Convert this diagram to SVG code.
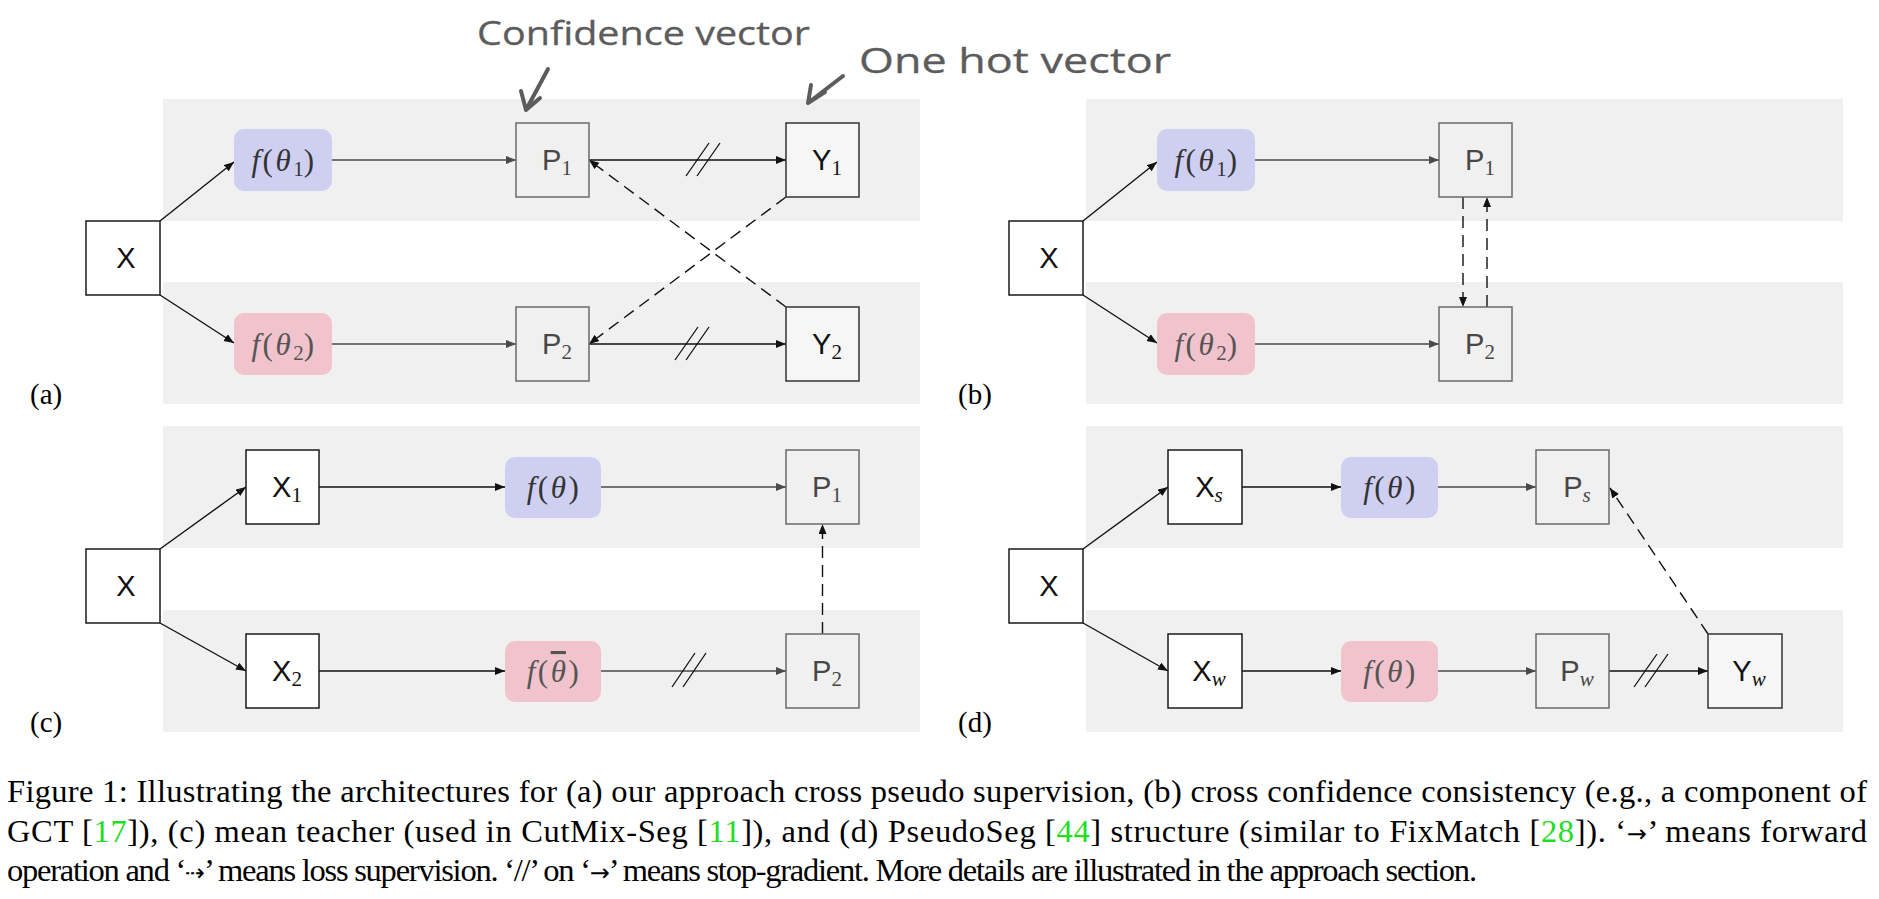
<svg xmlns="http://www.w3.org/2000/svg" width="1879" height="899" viewBox="0 0 1879 899">
<defs>
<style>
.band{fill:#f0f0f0}
.bx{fill:#fff;stroke:#1a1a1a;stroke-width:1.5}
.bp{fill:none;stroke:#6a6a6a;stroke-width:1.5}
.by{fill:#f6f6f6;stroke:#333;stroke-width:1.5}
.fb{fill:#cfd0f1}
.fr{fill:#f1c3cc}
.t{font-family:"Liberation Sans",Arial,sans-serif;font-size:29px;fill:#111}
.tp{fill:#474747}
.s{font-family:"Liberation Serif","Times New Roman",serif;font-size:21px;letter-spacing:0}
.si{font-family:"Liberation Serif","Times New Roman",serif;font-size:21px;font-style:italic}
.m{font-family:"Liberation Serif","Times New Roman",serif;font-size:31px;fill:#333;letter-spacing:2.5px}
.mr{fill:#555}
.i{font-style:italic}
.nb{letter-spacing:0}
.ol{text-decoration:overline}
.c{stroke:#111;stroke-width:1.4;fill:none}
.g{stroke:#4a4a4a;stroke-width:1.3;fill:none}
.d{stroke:#111;stroke-width:1.4;fill:none;stroke-dasharray:12 7}
.sg{stroke:#111;stroke-width:1.3;fill:none}
.cap{font-family:"Liberation Serif","Times New Roman",serif;font-size:32.5px;fill:#000}
.ar{font-family:"DejaVu Sans",sans-serif;font-size:24px}
.cite{fill:#22dd22}
.hw{font-family:"Open Sans","Noto Sans",sans-serif;fill:#5c5c5c;stroke:#5c5c5c;stroke-width:0.3}
.hwl{stroke:#5c5c5c;stroke-width:4;fill:none;stroke-linecap:round;stroke-linejoin:round}
.lbl{font-family:"Liberation Serif","Times New Roman",serif;font-size:29px;fill:#000}
</style>
<marker id="ah" markerUnits="userSpaceOnUse" markerWidth="12" markerHeight="10" refX="10" refY="4" orient="auto"><path d="M0,0 L10,4 L0,8 z" fill="#111"/></marker>
<marker id="ahg" markerUnits="userSpaceOnUse" markerWidth="12" markerHeight="10" refX="10" refY="4" orient="auto"><path d="M0,0 L10,4 L0,8 z" fill="#4a4a4a"/></marker>
</defs>
<rect width="1879" height="899" fill="#fff"/>

<g id="bands">
<rect class="band" x="163" y="99" width="757" height="122"/>
<rect class="band" x="163" y="282" width="757" height="122"/>
<rect class="band" x="1086" y="99" width="757" height="122"/>
<rect class="band" x="1086" y="282" width="757" height="122"/>
<rect class="band" x="163" y="426" width="757" height="122"/>
<rect class="band" x="163" y="610" width="757" height="122"/>
<rect class="band" x="1086" y="426" width="757" height="122"/>
<rect class="band" x="1086" y="610" width="757" height="122"/>
</g>

<g id="annotations">
<text class="hw" x="477" y="45" font-size="32" textLength="333" lengthAdjust="spacingAndGlyphs">Confidence vector</text>
<path class="hwl" d="M548,69 L526,110 M521,91 L526,110 L540,98"/>
<text class="hw" x="859" y="73" font-size="34" textLength="312" lengthAdjust="spacingAndGlyphs">One hot vector</text>
<path class="hwl" d="M843,76 L808,103 M811,85 L808,103 L825,92"/>
</g>

<g id="connectors">
<!-- (a) -->
<path class="c" d="M160,221 L234,162" marker-end="url(#ah)"/>
<path class="c" d="M160,295 L234,343" marker-end="url(#ah)"/>
<path class="g" d="M332,160 L516,160" marker-end="url(#ahg)"/>
<path class="g" d="M332,344 L516,344" marker-end="url(#ahg)"/>
<path class="c" d="M589,160 L786,160" marker-end="url(#ah)"/>
<path class="c" d="M589,344 L786,344" marker-end="url(#ah)"/>
<path class="sg" d="M686,176 L709,143 M697,176 L720,143"/>
<path class="sg" d="M675,360 L698,327 M686,360 L709,327"/>
<path class="d" d="M786,307 L589,160" marker-end="url(#ah)"/>
<path class="d" d="M786,197 L589,344" marker-end="url(#ah)"/>
<!-- (b) -->
<path class="c" d="M1083,221 L1157,162" marker-end="url(#ah)"/>
<path class="c" d="M1083,295 L1157,343" marker-end="url(#ah)"/>
<path class="g" d="M1255,160 L1439,160" marker-end="url(#ahg)"/>
<path class="g" d="M1255,344 L1439,344" marker-end="url(#ahg)"/>
<path class="d" d="M1463,197 L1463,307" marker-end="url(#ah)"/>
<path class="d" d="M1487,307 L1487,197" marker-end="url(#ah)"/>
<!-- (c) -->
<path class="c" d="M160,549 L246,487" marker-end="url(#ah)"/>
<path class="c" d="M160,623 L246,671" marker-end="url(#ah)"/>
<path class="c" d="M319,487 L505,487" marker-end="url(#ah)"/>
<path class="g" d="M601,487 L786,487" marker-end="url(#ahg)"/>
<path class="c" d="M319,671 L505,671" marker-end="url(#ah)"/>
<path class="g" d="M601,671 L786,671" marker-end="url(#ahg)"/>
<path class="sg" d="M672,687 L695,653 M683,687 L706,653"/>
<path class="d" d="M822.5,634 L822.5,524" marker-end="url(#ah)"/>
<!-- (d) -->
<path class="c" d="M1083,549 L1168,487" marker-end="url(#ah)"/>
<path class="c" d="M1083,623 L1168,671" marker-end="url(#ah)"/>
<path class="c" d="M1242,487 L1341,487" marker-end="url(#ah)"/>
<path class="g" d="M1438,487 L1536,487" marker-end="url(#ahg)"/>
<path class="c" d="M1242,671 L1341,671" marker-end="url(#ah)"/>
<path class="g" d="M1438,671 L1536,671" marker-end="url(#ahg)"/>
<path class="c" d="M1609,671 L1708,671" marker-end="url(#ah)"/>
<path class="sg" d="M1634,687 L1657,654 M1645,687 L1668,654"/>
<path class="d" d="M1708,634 L1610,488" marker-end="url(#ah)"/>
</g>

<!-- Panel (a) -->
<g id="a-X"><rect class="bx" x="86" y="221" width="74" height="74"/><text class="t" x="126" y="268" text-anchor="middle">X</text></g>
<g id="a-f1"><rect class="fb" x="234" y="129" width="98" height="62" rx="10"/><text class="m" x="284" y="171" text-anchor="middle"><tspan class="i">f</tspan>(<tspan class="i">θ</tspan><tspan class="s" dy="5">1</tspan><tspan dy="-5">)</tspan></text></g>
<g id="a-f2"><rect class="fr" x="234" y="313" width="98" height="62" rx="10"/><text class="m mr" x="284" y="355" text-anchor="middle"><tspan class="i">f</tspan>(<tspan class="i">θ</tspan><tspan class="s" dy="5">2</tspan><tspan dy="-5">)</tspan></text></g>
<g id="a-P1"><rect class="bp" x="516" y="123" width="73" height="74"/><text class="t tp" x="557" y="170" text-anchor="middle">P<tspan class="s" dy="5">1</tspan></text></g>
<g id="a-P2"><rect class="bp" x="516" y="307" width="73" height="74"/><text class="t tp" x="557" y="354" text-anchor="middle">P<tspan class="s" dy="5">2</tspan></text></g>
<g id="a-Y1"><rect class="by" x="786" y="123" width="73" height="74"/><text class="t" x="827" y="170" text-anchor="middle">Y<tspan class="s" dy="5">1</tspan></text></g>
<g id="a-Y2"><rect class="by" x="786" y="307" width="73" height="74"/><text class="t" x="827" y="354" text-anchor="middle">Y<tspan class="s" dy="5">2</tspan></text></g>
<text class="lbl" x="30" y="404">(a)</text>

<!-- Panel (b) -->
<g id="b-X"><rect class="bx" x="1009" y="221" width="74" height="74"/><text class="t" x="1049" y="268" text-anchor="middle">X</text></g>
<g id="b-f1"><rect class="fb" x="1157" y="129" width="98" height="62" rx="10"/><text class="m" x="1207" y="171" text-anchor="middle"><tspan class="i">f</tspan>(<tspan class="i">θ</tspan><tspan class="s" dy="5">1</tspan><tspan dy="-5">)</tspan></text></g>
<g id="b-f2"><rect class="fr" x="1157" y="313" width="98" height="62" rx="10"/><text class="m mr" x="1207" y="355" text-anchor="middle"><tspan class="i">f</tspan>(<tspan class="i">θ</tspan><tspan class="s" dy="5">2</tspan><tspan dy="-5">)</tspan></text></g>
<g id="b-P1"><rect class="bp" x="1439" y="123" width="73" height="74"/><text class="t tp" x="1480" y="170" text-anchor="middle">P<tspan class="s" dy="5">1</tspan></text></g>
<g id="b-P2"><rect class="bp" x="1439" y="307" width="73" height="74"/><text class="t tp" x="1480" y="354" text-anchor="middle">P<tspan class="s" dy="5">2</tspan></text></g>
<text class="lbl" x="958" y="404">(b)</text>

<!-- Panel (c) -->
<g id="c-X"><rect class="bx" x="86" y="549" width="74" height="74"/><text class="t" x="126" y="596" text-anchor="middle">X</text></g>
<g id="c-X1"><rect class="bx" x="246" y="450" width="73" height="74"/><text class="t" x="287" y="497" text-anchor="middle">X<tspan class="s" dy="5">1</tspan></text></g>
<g id="c-X2"><rect class="bx" x="246" y="634" width="73" height="74"/><text class="t" x="287" y="681" text-anchor="middle">X<tspan class="s" dy="5">2</tspan></text></g>
<g id="c-f"><rect class="fb" x="505" y="457" width="96" height="61" rx="10"/><text class="m" x="554" y="498" text-anchor="middle"><tspan class="i">f</tspan>(<tspan class="i">θ</tspan>)</text></g>
<g id="c-fbar"><rect class="fr" x="505" y="641" width="96" height="61" rx="10"/><text class="m mr" x="554" y="682" text-anchor="middle"><tspan class="i">f</tspan>(<tspan class="i nb ol">θ</tspan><tspan dx="2.5">)</tspan></text></g>
<g id="c-P1"><rect class="bp" x="786" y="450" width="73" height="74"/><text class="t tp" x="827" y="497" text-anchor="middle">P<tspan class="s" dy="5">1</tspan></text></g>
<g id="c-P2"><rect class="bp" x="786" y="634" width="73" height="74"/><text class="t tp" x="827" y="681" text-anchor="middle">P<tspan class="s" dy="5">2</tspan></text></g>
<text class="lbl" x="30" y="732">(c)</text>

<!-- Panel (d) -->
<g id="d-X"><rect class="bx" x="1009" y="549" width="74" height="74"/><text class="t" x="1049" y="596" text-anchor="middle">X</text></g>
<g id="d-Xs"><rect class="bx" x="1168" y="450" width="74" height="74"/><text class="t" x="1209" y="497" text-anchor="middle">X<tspan class="si" dy="5">s</tspan></text></g>
<g id="d-Xw"><rect class="bx" x="1168" y="634" width="74" height="74"/><text class="t" x="1209" y="681" text-anchor="middle">X<tspan class="si" dy="5">w</tspan></text></g>
<g id="d-fs"><rect class="fb" x="1341" y="457" width="97" height="61" rx="10"/><text class="m" x="1390.5" y="498" text-anchor="middle"><tspan class="i">f</tspan>(<tspan class="i">θ</tspan>)</text></g>
<g id="d-fw"><rect class="fr" x="1341" y="641" width="97" height="61" rx="10"/><text class="m mr" x="1390.5" y="682" text-anchor="middle"><tspan class="i">f</tspan>(<tspan class="i">θ</tspan>)</text></g>
<g id="d-Ps"><rect class="bp" x="1536" y="450" width="73" height="74"/><text class="t tp" x="1577" y="497" text-anchor="middle">P<tspan class="si" dy="5">s</tspan></text></g>
<g id="d-Pw"><rect class="bp" x="1536" y="634" width="73" height="74"/><text class="t tp" x="1577" y="681" text-anchor="middle">P<tspan class="si" dy="5">w</tspan></text></g>
<g id="d-Yw"><rect class="by" x="1708" y="634" width="74" height="74"/><text class="t" x="1749" y="681" text-anchor="middle">Y<tspan class="si" dy="5">w</tspan></text></g>
<text class="lbl" x="958" y="732">(d)</text>

<g id="caption">
<text class="cap" x="7" y="802" textLength="1860" lengthAdjust="spacing">Figure 1: Illustrating the architectures for (a) our approach cross pseudo supervision, (b) cross confidence consistency (e.g., a component of</text>
<text class="cap" x="7" y="842" textLength="1860" lengthAdjust="spacing">GCT [<tspan class="cite">17</tspan>]), (c) mean teacher (used in CutMix-Seg [<tspan class="cite">11</tspan>]), and (d) PseudoSeg [<tspan class="cite">44</tspan>] structure (similar to FixMatch [<tspan class="cite">28</tspan>]). ‘<tspan class="ar">→</tspan>’ means forward</text>
<text class="cap" x="7" y="881" textLength="1470" lengthAdjust="spacing">operation and ‘<tspan class="ar">⇢</tspan>’ means loss supervision. ‘//’ on ‘<tspan class="ar">→</tspan>’ means stop-gradient. More details are illustrated in the approach section.</text>
</g>
</svg>
